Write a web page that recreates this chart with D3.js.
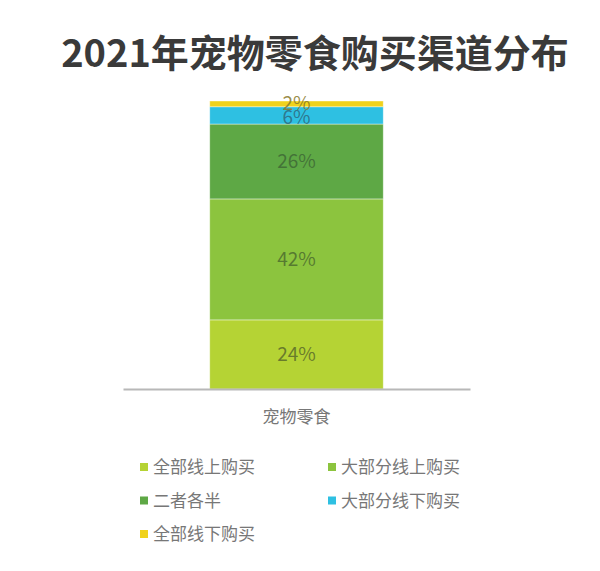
<!DOCTYPE html>
<html>
<head>
<meta charset="utf-8">
<script src="https://cdn.jsdelivr.net/npm/d3@7"></script>
<style>
  body { margin: 0; background: #fff; }
  text { font-family: "Noto Sans CJK SC", "Noto Sans", sans-serif; }
</style>
</head>
<body>
<svg id="chart" width="600" height="571"></svg>
<script>
// data
var categories = ["宠物零食"];
var seriesNames = ["全部线上购买", "大部分线上购买", "二者各半", "大部分线下购买", "全部线下购买"];
var seriesValues = [24, 42, 26, 6, 2];
var seriesColors = ["#b5d334", "#8cc43e", "#5ea845", "#2ec0e2", "#f0d21c"];
var labelColors = ["#5b6b2a", "#4d6d2e", "#3f6a35", "#2f6b80", "#8a7a2a"];

var svg = d3.select("#chart");

// title
svg.append("text")
  .attr("x", 315).attr("y", 67)
  .attr("text-anchor", "middle")
  .attr("font-size", 38).attr("font-weight", "bold")
  .attr("fill", "#3a3a3a")
  .text("2021年宠物零食购买渠道分布");

var x = d3.scaleBand().domain(categories).range([123, 470]).paddingInner(0.5).paddingOuter(0.25);
var y = d3.scaleLinear().domain([0, 100]).range([389, 101]);

// stack the single category
var row = {};
seriesNames.forEach(function(n, i) { row[n] = seriesValues[i]; });
row.cat = categories[0];
var stacked = d3.stack().keys(seriesNames)([row]);

var g = svg.append("g");
stacked.forEach(function(s, i) {
  var d = s[0];
  g.append("rect")
    .attr("x", x(d.data.cat))
    .attr("width", x.bandwidth())
    .attr("y", y(d[1]))
    .attr("height", y(d[0]) - y(d[1]))
    .attr("fill", seriesColors[i])
    .attr("stroke", "#ffffff").attr("stroke-width", 0.8).attr("stroke-opacity", 0.5);

  var ly = (y(d[0]) + y(d[1])) / 2 + 7;
  if (i == 4) ly = y(d[1]) + 9;    // tiny slices, labels pile up near the top
  if (i == 3) ly = y(d[1]) + 17;
  g.append("text")
    .attr("x", x(d.data.cat) + x.bandwidth() / 2)
    .attr("y", ly)
    .attr("text-anchor", "middle")
    .attr("font-size", 19)
    .attr("fill", labelColors[i]).attr("fill-opacity", 0.85)
    .text(seriesValues[i] + "%");
});

// axis
var axis = svg.append("g").attr("transform", "translate(0,389)")
  .call(d3.axisBottom(x).tickSize(0).tickPadding(22));
axis.select(".domain").attr("stroke", "#b8b8b8").attr("stroke-width", 2);
axis.selectAll("text").attr("font-size", 17).attr("fill", "#777")
  .style("font-family", "\"Noto Sans CJK SC\", sans-serif");

// legend, two columns
var legend = svg.append("g");
seriesNames.forEach(function(n, i) {
  var lx = i % 2 == 0 ? 140 : 328;
  var ly = 467 + Math.floor(i / 2) * 33.5;
  legend.append("rect")
    .attr("x", lx).attr("y", ly - 4)
    .attr("width", 8).attr("height", 8)
    .attr("fill", seriesColors[i]);
  legend.append("text")
    .attr("x", lx + 13).attr("y", ly + 6)
    .attr("font-size", 17).attr("fill", "#777")
    .text(n);
});
</script>
</body>
</html>
